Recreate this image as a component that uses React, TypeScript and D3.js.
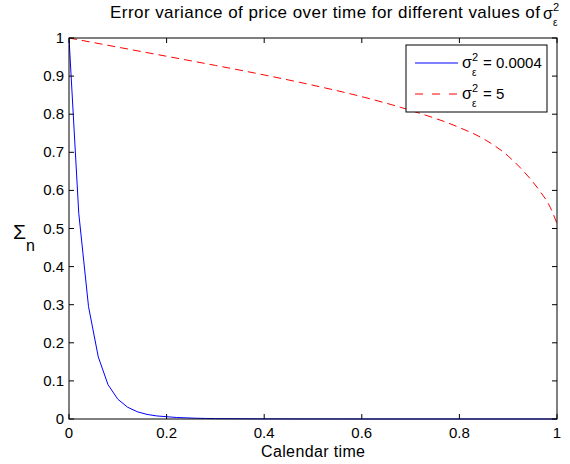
import React from "react";
import * as d3 from "d3";

const blueTime = [0, 0.02, 0.04, 0.06, 0.08, 0.1, 0.12, 0.14, 0.16, 0.18, 0.2, 0.22, 0.24, 0.26, 0.28, 0.3, 0.4, 0.6, 0.8, 1];
const blueValues = [1, 0.54, 0.295, 0.163, 0.09, 0.052, 0.031, 0.019, 0.012, 0.008, 0.006, 0.004, 0.003, 0.002, 0.0015, 0.001, 0.0003, 0, 0, 0];

const redTime = [0, 0.1, 0.2, 0.3, 0.4, 0.5, 0.6, 0.7, 0.8, 0.85, 0.9, 0.94, 0.965, 0.986, 1];
const redValues = [1, 0.976, 0.952, 0.928, 0.903, 0.876, 0.846, 0.81, 0.765, 0.735, 0.69, 0.638, 0.598, 0.556, 0.513];

const xTicks = [0, 0.2, 0.4, 0.6, 0.8, 1];
const yTicks = [0, 0.1, 0.2, 0.3, 0.4, 0.5, 0.6, 0.7, 0.8, 0.9, 1];
const xTickLabels = ["0", "0.2", "0.4", "0.6", "0.8", "1"];
const yTickLabels = ["0", "0.1", "0.2", "0.3", "0.4", "0.5", "0.6", "0.7", "0.8", "0.9", "1"];

const titleText = "Error variance of price over time for different values of";
const xLabel = "Calendar time";
const legendValues = ["0.0004", "5"];

const W = 570;
const H = 464;
const left = 69;
const right = 557;
const top = 38;
const bottom = 419;
const font = "'Liberation Sans', Arial, Helvetica, sans-serif";

export default function App() {
  const x = d3.scaleLinear().domain([0, 1]).range([left, right]);
  const y = d3.scaleLinear().domain([0, 1]).range([bottom, top]);

  const blueLine = d3
    .line<number>()
    .x((_, i) => x(blueTime[i]))
    .y((d) => y(d))(blueValues) as string;

  const redLine = d3
    .line<number>()
    .x((_, i) => x(redTime[i]))
    .y((d) => y(d))
    .curve(d3.curveMonotoneX)(redValues) as string;

  const tl = 5;
  const lgX = 406;
  const lgY = 45;
  const lgW = 141;
  const lgH = 67;

  return (
    <svg
      width={W}
      height={H}
      style={{ position: "absolute", left: 0, top: 0, background: "#fff" }}
      fontFamily={font}
    >
      <rect x={0} y={0} width={W} height={H} fill="#fff" />
      {/* Title */}
      <text x={110} y={18} fontSize={17} fill="#000" textLength={430} lengthAdjust="spacing">
        {titleText}
      </text>
      <text x={543} y={19} fontSize={16} fill="#000">σ</text>
      <text x={553} y={11} fontSize={11} fill="#000">2</text>
      <text x={553} y={26} fontSize={10} fill="#000">ε</text>

      {/* Lines */}
      <defs>
        <clipPath id="plotclip">
          <rect x={left} y={top - 1} width={right - left} height={bottom - top + 2} />
        </clipPath>
      </defs>
      <g clipPath="url(#plotclip)">
        <path d={redLine} fill="none" stroke="#ff0000" strokeWidth={1} strokeDasharray="8,5" />
        <path d={blueLine} fill="none" stroke="#0000ff" strokeWidth={1} />
      </g>

      {/* Frame */}
      <rect x={left} y={top} width={right - left} height={bottom - top} fill="none" stroke="#000" strokeWidth={1} />

      {/* X ticks */}
      {xTicks.map((t, i) => (
        <g key={"x" + i}>
          <line x1={x(t)} x2={x(t)} y1={bottom} y2={bottom - tl} stroke="#000" />
          <line x1={x(t)} x2={x(t)} y1={top} y2={top + tl} stroke="#000" />
          <text x={x(t)} y={bottom + 19} fontSize={15} textAnchor="middle" fill="#000">
            {xTickLabels[i]}
          </text>
        </g>
      ))}
      {/* Y ticks */}
      {yTicks.map((t, i) => (
        <g key={"y" + i}>
          <line x1={left} x2={left + tl} y1={y(t)} y2={y(t)} stroke="#000" />
          <line x1={right} x2={right - tl} y1={y(t)} y2={y(t)} stroke="#000" />
          <text x={left - 5} y={y(t) + 5} fontSize={15} textAnchor="end" fill="#000">
            {yTickLabels[i]}
          </text>
        </g>
      ))}

      {/* Axis labels */}
      <text x={(left + right) / 2} y={457} fontSize={16} textAnchor="middle" fill="#000" textLength={104} lengthAdjust="spacing">
        {xLabel}
      </text>
      <text x={13} y={239} fontSize={21} fill="#000">Σ</text>
      <text x={26} y={251} fontSize={16} fill="#000">n</text>

      {/* Legend */}
      <rect x={lgX} y={lgY} width={lgW} height={lgH} fill="#fff" stroke="#000" strokeWidth={1} />
      <line x1={415} x2={458} y1={63} y2={63} stroke="#0000ff" strokeWidth={1} />
      <line x1={415} x2={458} y1={94} y2={94} stroke="#ff0000" strokeWidth={1} strokeDasharray="8,9" />
      {legendValues.map((v, i) => {
        const by = 68 + i * 31;
        return (
          <g key={"lg" + i}>
            <text x={462} y={by} fontSize={16} fill="#000">σ</text>
            <text x={472} y={by - 7} fontSize={11} fill="#000">2</text>
            <text x={472} y={by + 8} fontSize={10} fill="#000">ε</text>
            <text x={483} y={by} fontSize={15} fill="#000">{"= " + v}</text>
          </g>
        );
      })}
    </svg>
  );
}
